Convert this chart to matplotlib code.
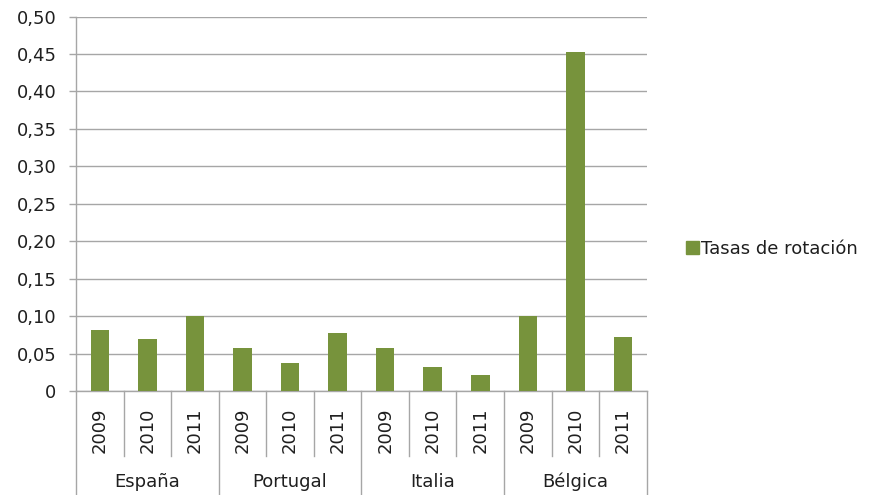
import matplotlib
matplotlib.use("Agg")
import matplotlib.pyplot as plt
import matplotlib.transforms as mtrans
from matplotlib.lines import Line2D
from matplotlib.patches import Patch

countries = ["España", "Portugal", "Italia", "Bélgica"]
years = ["2009", "2010", "2011"]
values = [0.082, 0.070, 0.100,
          0.057, 0.037, 0.077,
          0.057, 0.032, 0.022,
          0.100, 0.452, 0.072]
yticks = [0, 0.05, 0.10, 0.15, 0.20, 0.25, 0.30, 0.35, 0.40, 0.45, 0.50]
series_name = "Tasas de rotación"

green = "#77933C"
grey = "#A6A6A6"
txt = "#1F1F1F"
fs = 13
plt.rcParams["font.family"] = ["DejaVu Sans"]

fig = plt.figure(figsize=(8.72, 4.95), dpi=100)
W, H = 872, 495
ax = fig.add_axes([76 / W, 1 - 391 / H, (646.7 - 76) / W, (391 - 16.5) / H])

n = len(values)
xs = list(range(n))
ax.bar(xs, values, width=0.39, color=green, zorder=3, label=series_name)
ax.set_xlim(-0.5, n - 0.5)
ax.set_ylim(0, 0.5)
ax.set_yticks(yticks)
ax.set_yticklabels(["0" if v == 0 else f"{v:.2f}".replace(".", ",") for v in yticks],
                   fontsize=fs, color=txt)
ax.tick_params(axis="y", length=5, color=grey, width=1, pad=9)
ax.set_xticks([])
ax.grid(axis="y", color=grey, linewidth=1, zorder=0)
for s in ["top", "right"]:
    ax.spines[s].set_visible(False)
ax.spines["left"].set_color(grey)
ax.spines["bottom"].set_color(grey)
ax.spines["left"].set_linewidth(1)
ax.spines["bottom"].set_linewidth(1)

trans = mtrans.blended_transform_factory(ax.transData, ax.transAxes)
axh = 391 - 16.5
y_year_end = -(456 - 391) / axh
y_country_end = -(495 - 391) / axh
y_year_lbl = -(430 - 391) / axh
y_cty_lbl = -(482 - 391) / axh

ng = len(years)
for i in range(n + 1):
    xb = i - 0.5
    yend = y_country_end if i % ng == 0 else y_year_end
    ax.add_line(Line2D([xb, xb], [0, yend], transform=trans, color=grey,
                       linewidth=1, clip_on=False))
for i in range(n):
    ax.text(i, y_year_lbl, years[i % ng], transform=trans, rotation=90,
            ha="center", va="center", fontsize=fs, color=txt)
for j, c in enumerate(countries):
    ax.text(j * ng + (ng - 1) / 2, y_cty_lbl, c, transform=trans,
            ha="center", va="center", fontsize=fs, color=txt)

leg = fig.legend(handles=[Patch(color=green, label=series_name)],
                 loc="center left", bbox_to_anchor=(677 / W, 1 - 249 / H),
                 frameon=False, fontsize=fs, handlelength=0.7, handleheight=0.7,
                 handletextpad=0.15, borderpad=0, labelcolor=txt)

fig.savefig("out.png", dpi=100)
